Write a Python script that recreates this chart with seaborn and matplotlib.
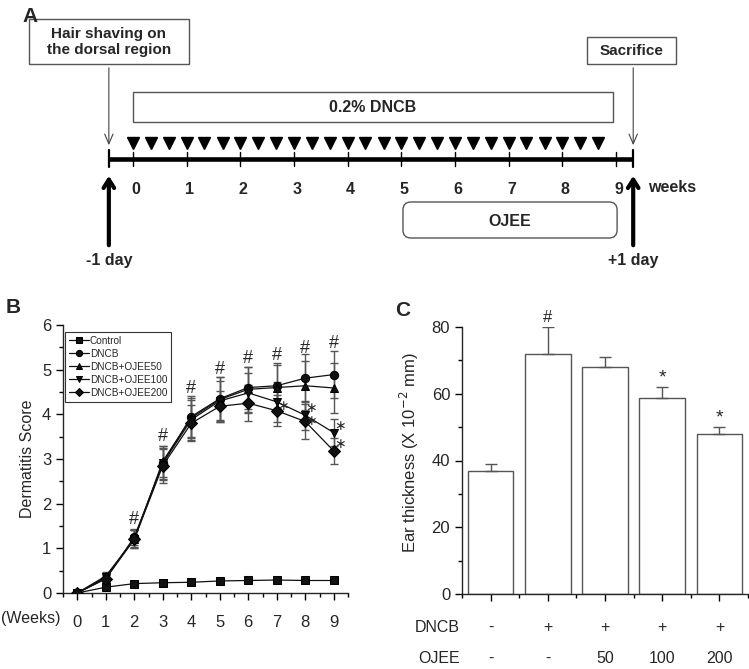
import numpy as np
import pandas as pd
import matplotlib
matplotlib.use("Agg")
import matplotlib.pyplot as plt
import matplotlib.transforms as mtransforms
from matplotlib.patches import Rectangle, FancyBboxPatch
from matplotlib.ticker import MultipleLocator
import seaborn as sns

# ---------------- data ----------------
# Panel A: experimental schedule (in weeks)
week_marks = [0, 1, 2, 3, 4, 5, 6, 7, 8, 9]
dncb_doses = [0, 0.33, 0.67, 1, 1.33, 1.67, 2, 2.33, 2.67, 3, 3.33, 3.67, 4, 4.33,
              4.67, 5, 5.33, 5.67, 6, 6.33, 6.67, 7, 7.33, 7.67, 8, 8.33, 8.67]
shave_week = -0.45     # -1 day
sacrifice_week = 9.32  # +1 day
dncb_period = [0, 8.94]
ojee_period = [5.03, 9.02]

# Panel B: dermatitis score
weeks = [0, 1, 2, 3, 4, 5, 6, 7, 8, 9]
groups = ["Control", "DNCB", "DNCB+OJEE50", "DNCB+OJEE100", "DNCB+OJEE200"]
control = [0.0, 0.13, 0.21, 0.23, 0.24, 0.27, 0.28, 0.29, 0.28, 0.28]
dncb = [0.0, 0.32, 1.25, 2.90, 3.95, 4.35, 4.60, 4.64, 4.81, 4.89]
ojee50 = [0.0, 0.38, 1.20, 2.95, 3.92, 4.33, 4.56, 4.60, 4.64, 4.59]
ojee100 = [0.0, 0.35, 1.22, 2.90, 3.88, 4.30, 4.48, 4.28, 3.98, 3.59]
ojee200 = [0.0, 0.32, 1.20, 2.85, 3.80, 4.18, 4.25, 4.08, 3.84, 3.18]
control_err = [0.0, 0.02, 0.02, 0.02, 0.02, 0.02, 0.02, 0.02, 0.02, 0.02]
dncb_err = [0.0, 0.08, 0.18, 0.35, 0.45, 0.48, 0.47, 0.50, 0.53, 0.53]
ojee50_err = [0.0, 0.08, 0.20, 0.35, 0.45, 0.50, 0.50, 0.50, 0.55, 0.55]
ojee100_err = [0.0, 0.08, 0.20, 0.38, 0.45, 0.45, 0.45, 0.45, 0.32, 0.30]
ojee200_err = [0.0, 0.08, 0.20, 0.38, 0.40, 0.35, 0.40, 0.35, 0.40, 0.30]
hash_weeks = [2, 3, 4, 5, 6, 7, 8, 9]
hash_y = [1.64, 3.50, 4.58, 5.01, 5.25, 5.31, 5.48, 5.59]
star_weeks = [7.2, 8.2, 8.2, 9.2, 9.2]
star_y = [4.19, 4.15, 3.86, 3.74, 3.34]

# Panel C: ear thickness
ear_groups = ["Control", "DNCB", "DNCB+OJEE50", "DNCB+OJEE100", "DNCB+OJEE200"]
ear_thick = [37.0, 71.8, 68.0, 58.6, 48.0]
ear_err = [2.1, 8.2, 3.1, 3.4, 2.0]
ear_marks = ["", "#", "", "*", "*"]
dncb_row = ["-", "+", "+", "+", "+"]
ojee_row = ["-", "-", "50", "100", "200"]

# ---------------- style ----------------
sns.set_style("ticks")
plt.rcParams["font.family"] = ["Liberation Sans", "DejaVu Sans"]
plt.rcParams["axes.linewidth"] = 1.0

fig = plt.figure(figsize=(7.49, 6.69), dpi=100)

# ---------------- Panel A ----------------
pxw = 53.67
axA = fig.add_axes([0, 1 - 290 / 669, 1, 290 / 669])
axA.set_xlim(-133 / pxw, (749 - 133) / pxw)
axA.set_ylim(290, 0)
axA.axis("off")
fsA = 11

axA.plot([shave_week, sacrifice_week], [159, 159], color="black", lw=3.3,
         solid_capstyle="butt", zorder=3)
for w in week_marks:
    axA.plot([w, w], [152, 166], color="black", lw=1.0, zorder=4)
for w in [shave_week, sacrifice_week]:
    axA.plot([w, w], [150, 167], color="black", lw=1.6, zorder=4)
    axA.text(w, 260, ("-1 day" if w < 0 else "+1 day"), ha="center", va="center",
             fontsize=fsA + 0.5, fontweight="bold")
    axA.annotate("", xy=(w, 173), xytext=(w, 248),
                 arrowprops=dict(arrowstyle="->,head_width=0.38,head_length=0.6",
                                 lw=3, color="black"))
axA.plot(dncb_doses, [143] * len(dncb_doses), ls="none", marker="v",
         ms=9, color="black")
for w in week_marks:
    axA.text(w + 0.05, 189, str(w), ha="center", va="center",
             fontsize=fsA + 0.5, fontweight="bold")
axA.text(9.6, 187, "weeks", ha="left", va="center", fontsize=fsA + 0.5,
         fontweight="bold")

axA.add_patch(Rectangle((dncb_period[0], 92), dncb_period[1] - dncb_period[0], 30,
                        fill=False, ec="#555555", lw=1.0))
axA.text(4.47, 108, "0.2% DNCB", ha="center", va="center", fontsize=fsA + 0.5,
         fontweight="bold")
axA.add_patch(FancyBboxPatch((ojee_period[0], 202), ojee_period[1] - ojee_period[0], 36,
                             boxstyle="round,pad=0,rounding_size=0.15",
                             mutation_aspect=pxw, fill=False, ec="#555555", lw=1.0))
axA.text(7.02, 221, "OJEE", ha="center", va="center", fontsize=fsA + 0.5,
         fontweight="bold")

axA.add_patch(Rectangle((-1.938, 19), 2.982, 45, fill=False, ec="#555555", lw=1.0))
axA.text(shave_week, 42, "Hair shaving on\nthe dorsal region", ha="center",
         va="center", fontsize=fsA, fontweight="bold", linespacing=1.25)
axA.add_patch(Rectangle((8.459, 37), 1.659, 27, fill=False, ec="#555555", lw=1.0))
axA.text(9.29, 51, "Sacrifice", ha="center", va="center", fontsize=fsA,
         fontweight="bold")
for w, y0 in [(shave_week, 65), (sacrifice_week, 65)]:
    axA.annotate("", xy=(w, 148), xytext=(w, y0),
                 arrowprops=dict(arrowstyle="->,head_width=0.3,head_length=0.7",
                                 lw=0.8, color="#444444"))

# ---------------- Panel B ----------------
axB = fig.add_axes([63 / 749, 1 - 593 / 669, 285 / 749, 268 / 669])
series = [control, dncb, ojee50, ojee100, ojee200]
errs = [control_err, dncb_err, ojee50_err, ojee100_err, ojee200_err]
df = pd.DataFrame({
    "week": weeks * len(groups),
    "score": sum(series, []),
    "group": [g for g in groups for _ in weeks],
})
for s, e in zip(series, errs):
    axB.errorbar(weeks, s, yerr=e, fmt="none", ecolor="#555555", elinewidth=1.0,
                 capsize=3, capthick=1.0, zorder=1)
markers = dict(zip(groups, ["s", "o", "^", "v", "D"]))
palette = dict(zip(groups, ["#111111"] * 5))
sns.lineplot(data=df, x="week", y="score", hue="group", style="group",
             markers=markers, dashes=False, palette=palette, markersize=6,
             linewidth=0.9, markeredgecolor="black", ax=axB, zorder=3)
h, l = axB.get_legend_handles_labels()
leg = axB.legend(h, l, loc="upper left", bbox_to_anchor=(0.007, 0.975),
                 borderaxespad=0, fontsize=7.2, handlelength=2.0, handletextpad=0.1,
                 labelspacing=0.3, frameon=True, fancybox=False, borderpad=0.4,
                 markerscale=0.75)
leg.get_frame().set_edgecolor("black")
leg.get_frame().set_linewidth(0.8)

for x, y in zip(hash_weeks, hash_y):
    axB.text(x, y, "#", ha="center", va="center", fontsize=13)
# mathtext asterisk has a tight glyph box, so the close pairs stay apart
for x, y in zip(star_weeks, star_y):
    axB.text(x, y, r"$\ast$", ha="center", va="center", fontsize=10)

axB.set_xlim(-0.5, 9.5)
axB.set_ylim(0, 6)
axB.set_xticks(weeks)
axB.xaxis.set_minor_locator(MultipleLocator(0.5))
axB.yaxis.set_major_locator(MultipleLocator(1))
axB.yaxis.set_minor_locator(MultipleLocator(0.5))
axB.tick_params(axis="both", which="major", length=5, width=1, labelsize=12,
                color="black")
axB.tick_params(axis="both", which="minor", length=3, width=1, color="black")
axB.tick_params(axis="x", pad=11)
axB.set_xlabel("")
axB.set_ylabel("Dermatitis Score", fontsize=11.5, labelpad=5)
sns.despine(ax=axB)
fig.text(31 / 749, 1 - 619 / 669, "(Weeks)", ha="center", va="center", fontsize=11.5)

# ---------------- Panel C ----------------
axC = fig.add_axes([462 / 749, 1 - 594 / 669, 286 / 749, 267 / 669])
sns.barplot(x=ear_groups, y=ear_thick, order=ear_groups, color="white",
            edgecolor="#555555", linewidth=1.0, width=0.8, errorbar=None, ax=axC)
axC.errorbar(range(len(ear_groups)), ear_thick, yerr=[[0] * 5, ear_err], fmt="none",
             ecolor="#555555", elinewidth=1.0, capsize=4, capthick=1.0)
for i, (m, v, e) in enumerate(zip(ear_marks, ear_thick, ear_err)):
    if m:
        axC.text(i, v + e + 2.8, m, ha="center", va="center",
                 fontsize=12 if m == "#" else 14)
axC.set_xlim(-0.5, 4.5)
axC.set_ylim(0, 80)
axC.yaxis.set_major_locator(MultipleLocator(20))
axC.yaxis.set_minor_locator(MultipleLocator(10))
axC.set_xticks(range(5))
axC.set_xticklabels([])
axC.set_xticks([-0.5, 0.5, 1.5, 2.5, 3.5, 4.5], minor=True)
axC.tick_params(axis="both", which="major", length=5, width=1, labelsize=12,
                color="black")
axC.tick_params(axis="both", which="minor", length=3, width=1, color="black")
axC.set_ylabel("Ear thickness (X 10$^{-2}$ mm)", fontsize=12, labelpad=4)
axC.yaxis.set_label_coords(-0.145, 0.53)
sns.despine(ax=axC)

trans = mtransforms.blended_transform_factory(axC.transData, axC.transAxes)
axC.text(-0.54, -0.124, "DNCB", ha="right", va="center", fontsize=11.5, transform=trans)
axC.text(-0.54, -0.240, "OJEE", ha="right", va="center", fontsize=11.5, transform=trans)
for i, (a, b) in enumerate(zip(dncb_row, ojee_row)):
    axC.text(i, -0.124, a, ha="center", va="center", fontsize=11.5, transform=trans)
    axC.text(i, -0.240, b, ha="center", va="center", fontsize=11.5, transform=trans)

# panel letters
fig.text(30 / 749, 1 - 16 / 669, "A", ha="center", va="center", fontsize=15,
         fontweight="bold")
fig.text(13 / 749, 1 - 308 / 669, "B", ha="center", va="center", fontsize=15,
         fontweight="bold")
fig.text(403 / 749, 1 - 310 / 669, "C", ha="center", va="center", fontsize=15,
         fontweight="bold")

fig.savefig("out.png", dpi=100)
